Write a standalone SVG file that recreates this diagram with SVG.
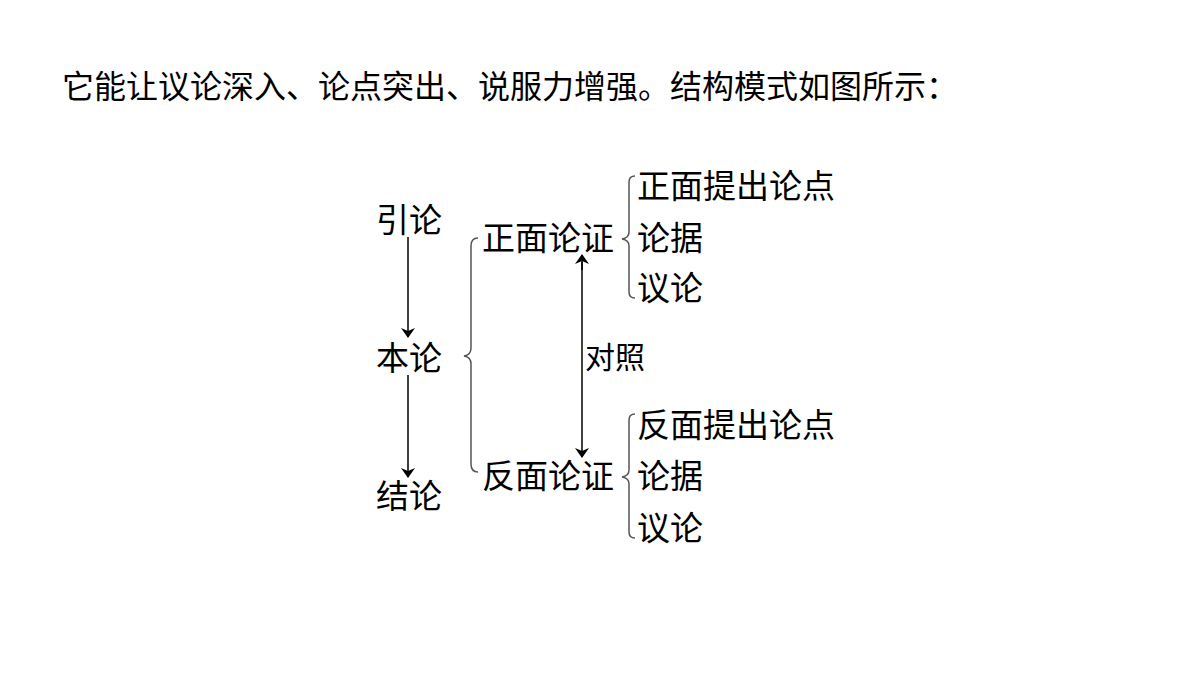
<svg xmlns="http://www.w3.org/2000/svg" width="1200" height="675" viewBox="0 0 1200 675">
<style>
text{font-family:"Liberation Serif","Noto Sans CJK SC",serif;fill:#000}
.t{font-size:33px}
.l{fill:none;stroke:#000;stroke-width:1.5}
.b{fill:none;stroke:#555;stroke-width:1.5}
</style>
<defs><marker id="a" markerWidth="10" markerHeight="14" refX="9" refY="7" orient="auto" markerUnits="userSpaceOnUse"><path d="M0,0 L10,7 L0,14 L3,7z" fill="#000"/></marker></defs>
<rect width="1200" height="675" fill="#fff"/>
<text x="62" y="98" style="font-size:32px">它能让议论深入、论点突出、说服力增强。结构模式如图所示：</text>
<g id="n1"><text class="t" x="376" y="232">引论</text></g>
<g id="n2"><text class="t" x="376" y="370">本论</text></g>
<g id="n3"><text class="t" x="376" y="508">结论</text></g>
<g id="n4"><text class="t" x="482" y="250">正面论证</text></g>
<g id="n5"><text class="t" x="482" y="488">反面论证</text></g>
<g id="n6"><text style="font-size:30px" x="585" y="368">对照</text></g>
<g id="n7"><text class="t" x="637" y="198">正面提出论点</text><text class="t" x="637" y="250">论据</text><text class="t" x="637" y="300">议论</text></g>
<g id="n8"><text class="t" x="637" y="437">反面提出论点</text><text class="t" x="637" y="488">论据</text><text class="t" x="637" y="540">议论</text></g>
<g id="connectors">
<line class="l" x1="408" y1="237" x2="408" y2="337" marker-end="url(#a)"/>
<line class="l" x1="408" y1="375" x2="408" y2="477" marker-end="url(#a)"/>
<line class="l" x1="582" y1="270" x2="582" y2="255" marker-end="url(#a)"/>
<line class="l" x1="582" y1="262" x2="582" y2="457" marker-end="url(#a)"/>
<path class="b" d="M478,238 Q471,238 471,246 L471,348 Q471,355 464,356 Q471,357 471,364 L471,464 Q471,472 478,472"/>
<path class="b" d="M635,176 Q629,176 629,182 L629,232 Q629,238 622,239 Q629,240 629,246 L629,292 Q629,298 635,298"/>
<path class="b" d="M635,414 Q629,414 629,420 L629,470 Q629,476 622,477 Q629,478 629,484 L629,532 Q629,538 635,538"/>
</g>
</svg>
